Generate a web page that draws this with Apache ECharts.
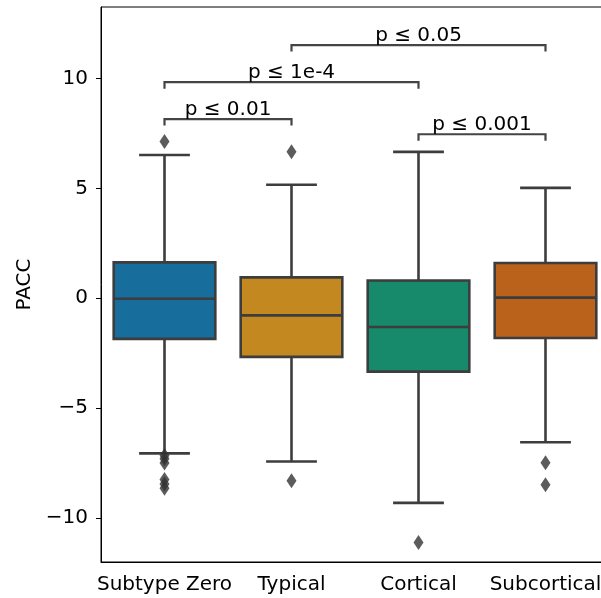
<!DOCTYPE html>
<html>
<head>
<meta charset="utf-8">
<script src="https://cdn.jsdelivr.net/npm/echarts@6/dist/echarts.min.js"></script>
<style>html,body{margin:0;padding:0;background:#fff;overflow:hidden;}#c{width:611px;height:598px;}</style>
</head>
<body>
<div id="c"></div>
<script>
const categories = ['Subtype Zero', 'Typical', 'Cortical', 'Subcortical'];
// [whiskerLow, Q1, median, Q3, whiskerHigh]
const boxStats = [
  [-7.06, -1.85, -0.02, 1.63, 6.52],
  [-7.43, -2.67, -0.78, 0.95, 5.16],
  [-9.31, -3.34, -1.31, 0.81, 6.66],
  [-6.55, -1.81, 0.03, 1.60, 5.02]
];
// outliers: [categoryIndex, value]
const outliers = [
  [0, 7.13], [0, -7.15], [0, -7.3], [0, -7.5], [0, -8.25], [0, -8.45], [0, -8.65],
  [1, 6.66], [1, -8.3],
  [2, -11.11],
  [3, -7.49], [3, -8.48]
];
const boxColors = ['#176d9c', '#c3881f', '#168a6a', '#ba611b'];
// brackets: [fromIndex, toIndex, yValue]
const brackets = [[0, 1, 8.15], [0, 2, 9.83], [1, 3, 11.52], [2, 3, 7.46]];
const bracketLabels = ['p ≤ 0.01', 'p ≤ 1e-4', 'p ≤ 0.05', 'p ≤ 0.001'];
const yTicks = [-10, -5, 0, 5, 10];

const FONT = 'DejaVu Sans';
const LINE = '#3d3d3d';
const chart = echarts.init(document.getElementById('c'), null, {renderer: 'canvas'});

const boxData = boxStats.map((s, i) => [i].concat(s));
const bracketData = brackets.map(b => b.slice());

function renderBox(params, api) {
  const i = api.value(0);
  const lo = api.coord([i, api.value(1)]);
  const q1 = api.coord([i, api.value(2)]);
  const med = api.coord([i, api.value(3)]);
  const q3 = api.coord([i, api.value(4)]);
  const hi = api.coord([i, api.value(5)]);
  const band = api.size([1, 0])[0];
  const bw = band * 0.8;
  const cw = bw * 0.5;
  const x = lo[0];
  const st = {stroke: LINE, lineWidth: 2.6, lineCap: 'butt'};
  return {
    type: 'group',
    children: [
      {type: 'line', shape: {x1: x, y1: q3[1], x2: x, y2: hi[1]}, style: st},
      {type: 'line', shape: {x1: x, y1: q1[1], x2: x, y2: lo[1]}, style: st},
      {type: 'line', shape: {x1: x - cw / 2, y1: hi[1], x2: x + cw / 2, y2: hi[1]}, style: st},
      {type: 'line', shape: {x1: x - cw / 2, y1: lo[1], x2: x + cw / 2, y2: lo[1]}, style: st},
      {type: 'rect', shape: {x: x - bw / 2, y: q3[1], width: bw, height: q1[1] - q3[1]},
        style: {fill: boxColors[params.dataIndex], stroke: LINE, lineWidth: 2.6}},
      {type: 'line', shape: {x1: x - bw / 2, y1: med[1], x2: x + bw / 2, y2: med[1]}, style: st}
    ]
  };
}

function renderBracket(params, api) {
  const a = api.coord([api.value(0), api.value(2)]);
  const b = api.coord([api.value(1), api.value(2)]);
  const tick = 6.5;
  const st = {stroke: '#444', lineWidth: 2.2, fill: null};
  return {
    type: 'group',
    children: [
      {type: 'polyline', shape: {points: [[a[0], a[1] + tick], [a[0], a[1]], [b[0], b[1]], [b[0], b[1] + tick]]}, style: st},
      {type: 'text', x: (a[0] + b[0]) / 2, y: a[1] + 1,
        style: {text: bracketLabels[params.dataIndex], fill: '#000', font: '20px "DejaVu Sans"', align: 'center', verticalAlign: 'bottom'}}
    ]
  };
}

const option = {
  animation: false,
  backgroundColor: '#fff',
  grid: {left: 101, top: 7, width: 508, height: 555, show: true, borderColor: '#000', borderWidth: 1, containLabel: false},
  xAxis: {
    type: 'category',
    data: categories,
    boundaryGap: true,
    axisLine: {onZero: false, lineStyle: {color: '#000', width: 1}},
    axisTick: {alignWithLabel: true, length: 5, lineStyle: {color: '#000'}},
    axisLabel: {color: '#000', fontSize: 20, fontFamily: FONT, margin: 13, interval: 0},
    splitLine: {show: false}
  },
  yAxis: {
    type: 'value',
    min: -12,
    max: 13.25,
    name: 'PACC',
    nameLocation: 'middle',
    nameGap: 61,
    nameTextStyle: {color: '#000', fontSize: 20, fontFamily: FONT},
    axisLine: {show: true, lineStyle: {color: '#000', width: 1}},
    axisTick: {show: true, length: 5, lineStyle: {color: '#000'}, customValues: yTicks},
    axisLabel: {color: '#000', fontSize: 20, fontFamily: FONT, margin: 13, customValues: yTicks,
      formatter: v => v < 0 ? '\u2212' + Math.abs(v) : String(v)},
    splitLine: {show: false}
  },
  series: [
    {type: 'custom', renderItem: renderBox, data: boxData, encode: {x: 0, y: [1, 2, 3, 4, 5]}, z: 2},
    {type: 'scatter', data: outliers, symbol: 'diamond', symbolSize: [10, 15],
      itemStyle: {color: '#333'}, z: 3},
    {type: 'custom', renderItem: renderBracket, data: bracketData, encode: {x: [0, 1], y: 2}, z: 4}
  ]
};
chart.setOption(option);
</script>
</body>
</html>
